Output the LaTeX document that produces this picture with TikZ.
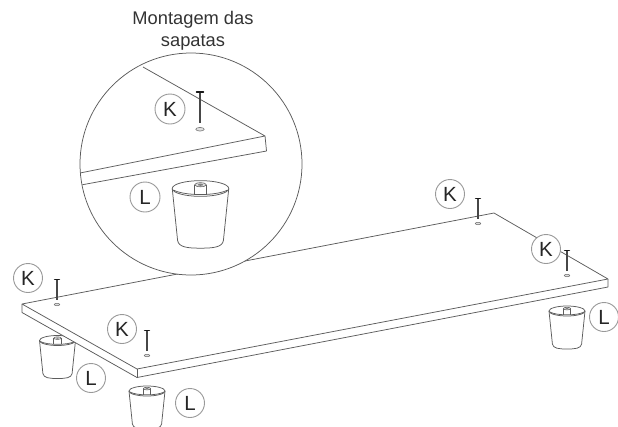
\documentclass[tikz,border=0pt]{standalone}
\usepackage{fontspec}
\setmainfont{Liberation Sans}
\definecolor{ink}{gray}{0.36}
\tikzset{
  line/.style={draw=ink,line width=0.75pt,line join=round},
  badge/.style={circle,draw=black!40,line width=0.9pt,fill=white,minimum size=#1,inner sep=0pt,text=black!85,font=\fontsize{20.5}{20.5}\selectfont},
  screw/.pic={
    \draw[black!72,line width=1.7pt] (0,1) -- (0,21);
    \draw[black!90,line width=1.5pt,line cap=round] (-2.3,0.6) -- (2.3,0.6);
    \draw[black!55,fill=black!12,line width=0.6pt] (0,25.5) ellipse (2.8 and 1.2);
  },
  cup/.pic={
    \draw[line,fill=white] (-18,0) -- (-14.6,33) .. controls (-14,37.5) and (-8,38) .. (0,38)
      .. controls (8,38) and (14,37.5) .. (14.6,33) -- (18,0);
    \draw[line,fill=white] (0,0) ellipse (18 and 5);
    \draw[line] (-17.2,1) .. controls (-10,4.8) and (10,4.8) .. (17.2,1);
    \draw[line,fill=white,line width=0.65pt] (-3.7,-2.4) -- (-3.7,3.9) (3.7,3.9) -- (3.7,-2.4);
    \draw[line,fill=black!12,line width=0.55pt] (0,-2.4) ellipse (3.7 and 1.3);
    \fill[black!50] (0,-2.4) ellipse (1.6 and 0.7);
  }
}
\begin{document}
\begin{tikzpicture}[x=1pt,y=-1pt]
\useasboundingbox (0,0) rectangle (618,426);
\begin{scope}
\clip (0,0) rectangle (618,426);
% feet behind the panel
\pic (cupa) at (57.5,340.5) {cup};
\pic (cupb) at (147,391) {cup};
\pic (cupc) at (567,311) {cup};
% panel
\coordinate (pl) at (22,304);
\coordinate (pb) at (494,213);
\coordinate (pr) at (608,279);
\coordinate (pn) at (137,369);
\coordinate (pls) at (22,312.5);
\coordinate (pns) at (137,377.5);
\coordinate (prs) at (608,287);
\path[fill=white] (pl) -- (pb) -- (pr) -- (prs) -- (pns) -- (pls) -- cycle;
\draw[line] (pl) -- (pb) -- (pr) -- (pn) -- cycle;
\draw[line] (pl) -- (pls) -- (pns) -- (prs) -- (pr);
\draw[line] (pn) -- (pns);
% screws
\pic (sa) at (57,279) {screw};
\pic (sb) at (147,330) {screw};
\pic (sc) at (478,198) {screw};
\pic (sd) at (567,250) {screw};
% detail circle
\node (detail) [circle,draw=ink,line width=0.75pt,fill=white,minimum size=222pt,inner sep=0pt] at (191,164) {};
\begin{scope}
\clip (191,164) circle (110.6);
\coordinate (da) at (143,67);
\coordinate (db) at (265,136);
\coordinate (dc) at (70,175);
\coordinate (dd) at (266.5,151);
\coordinate (de) at (70,187);
\draw[line] (da) -- (db) -- (dc);
\draw[line] (db) -- (dd) -- (de);
\end{scope}
\pic[scale=1.5] (sbig) at (200,91) {screw};
\pic[scale=1.57] (cupbig) at (200.5,188.5) {cup};
% labels
\node[badge=29pt] (ka) at (28,278) {K};
\node[badge=29pt] (kb) at (122,329) {K};
\node[badge=29pt] (kc) at (450,194) {K};
\node[badge=29pt] (kd) at (546,249) {K};
\node[badge=30pt] (kbig) at (170,109) {K};
\node[badge=29pt] (la) at (91,378) {L};
\node[badge=29pt] (lb) at (190,403) {L};
\node[badge=29pt] (lc) at (604,317) {L};
\node[badge=30pt] (lbig) at (145,197) {L};
\node[align=center,text=black!80,font=\fontsize{18.3}{22}\selectfont,inner sep=0pt] (title) at (193,30.5) {Montagem das\\sapatas};
\end{scope}
\end{tikzpicture}
\end{document}
